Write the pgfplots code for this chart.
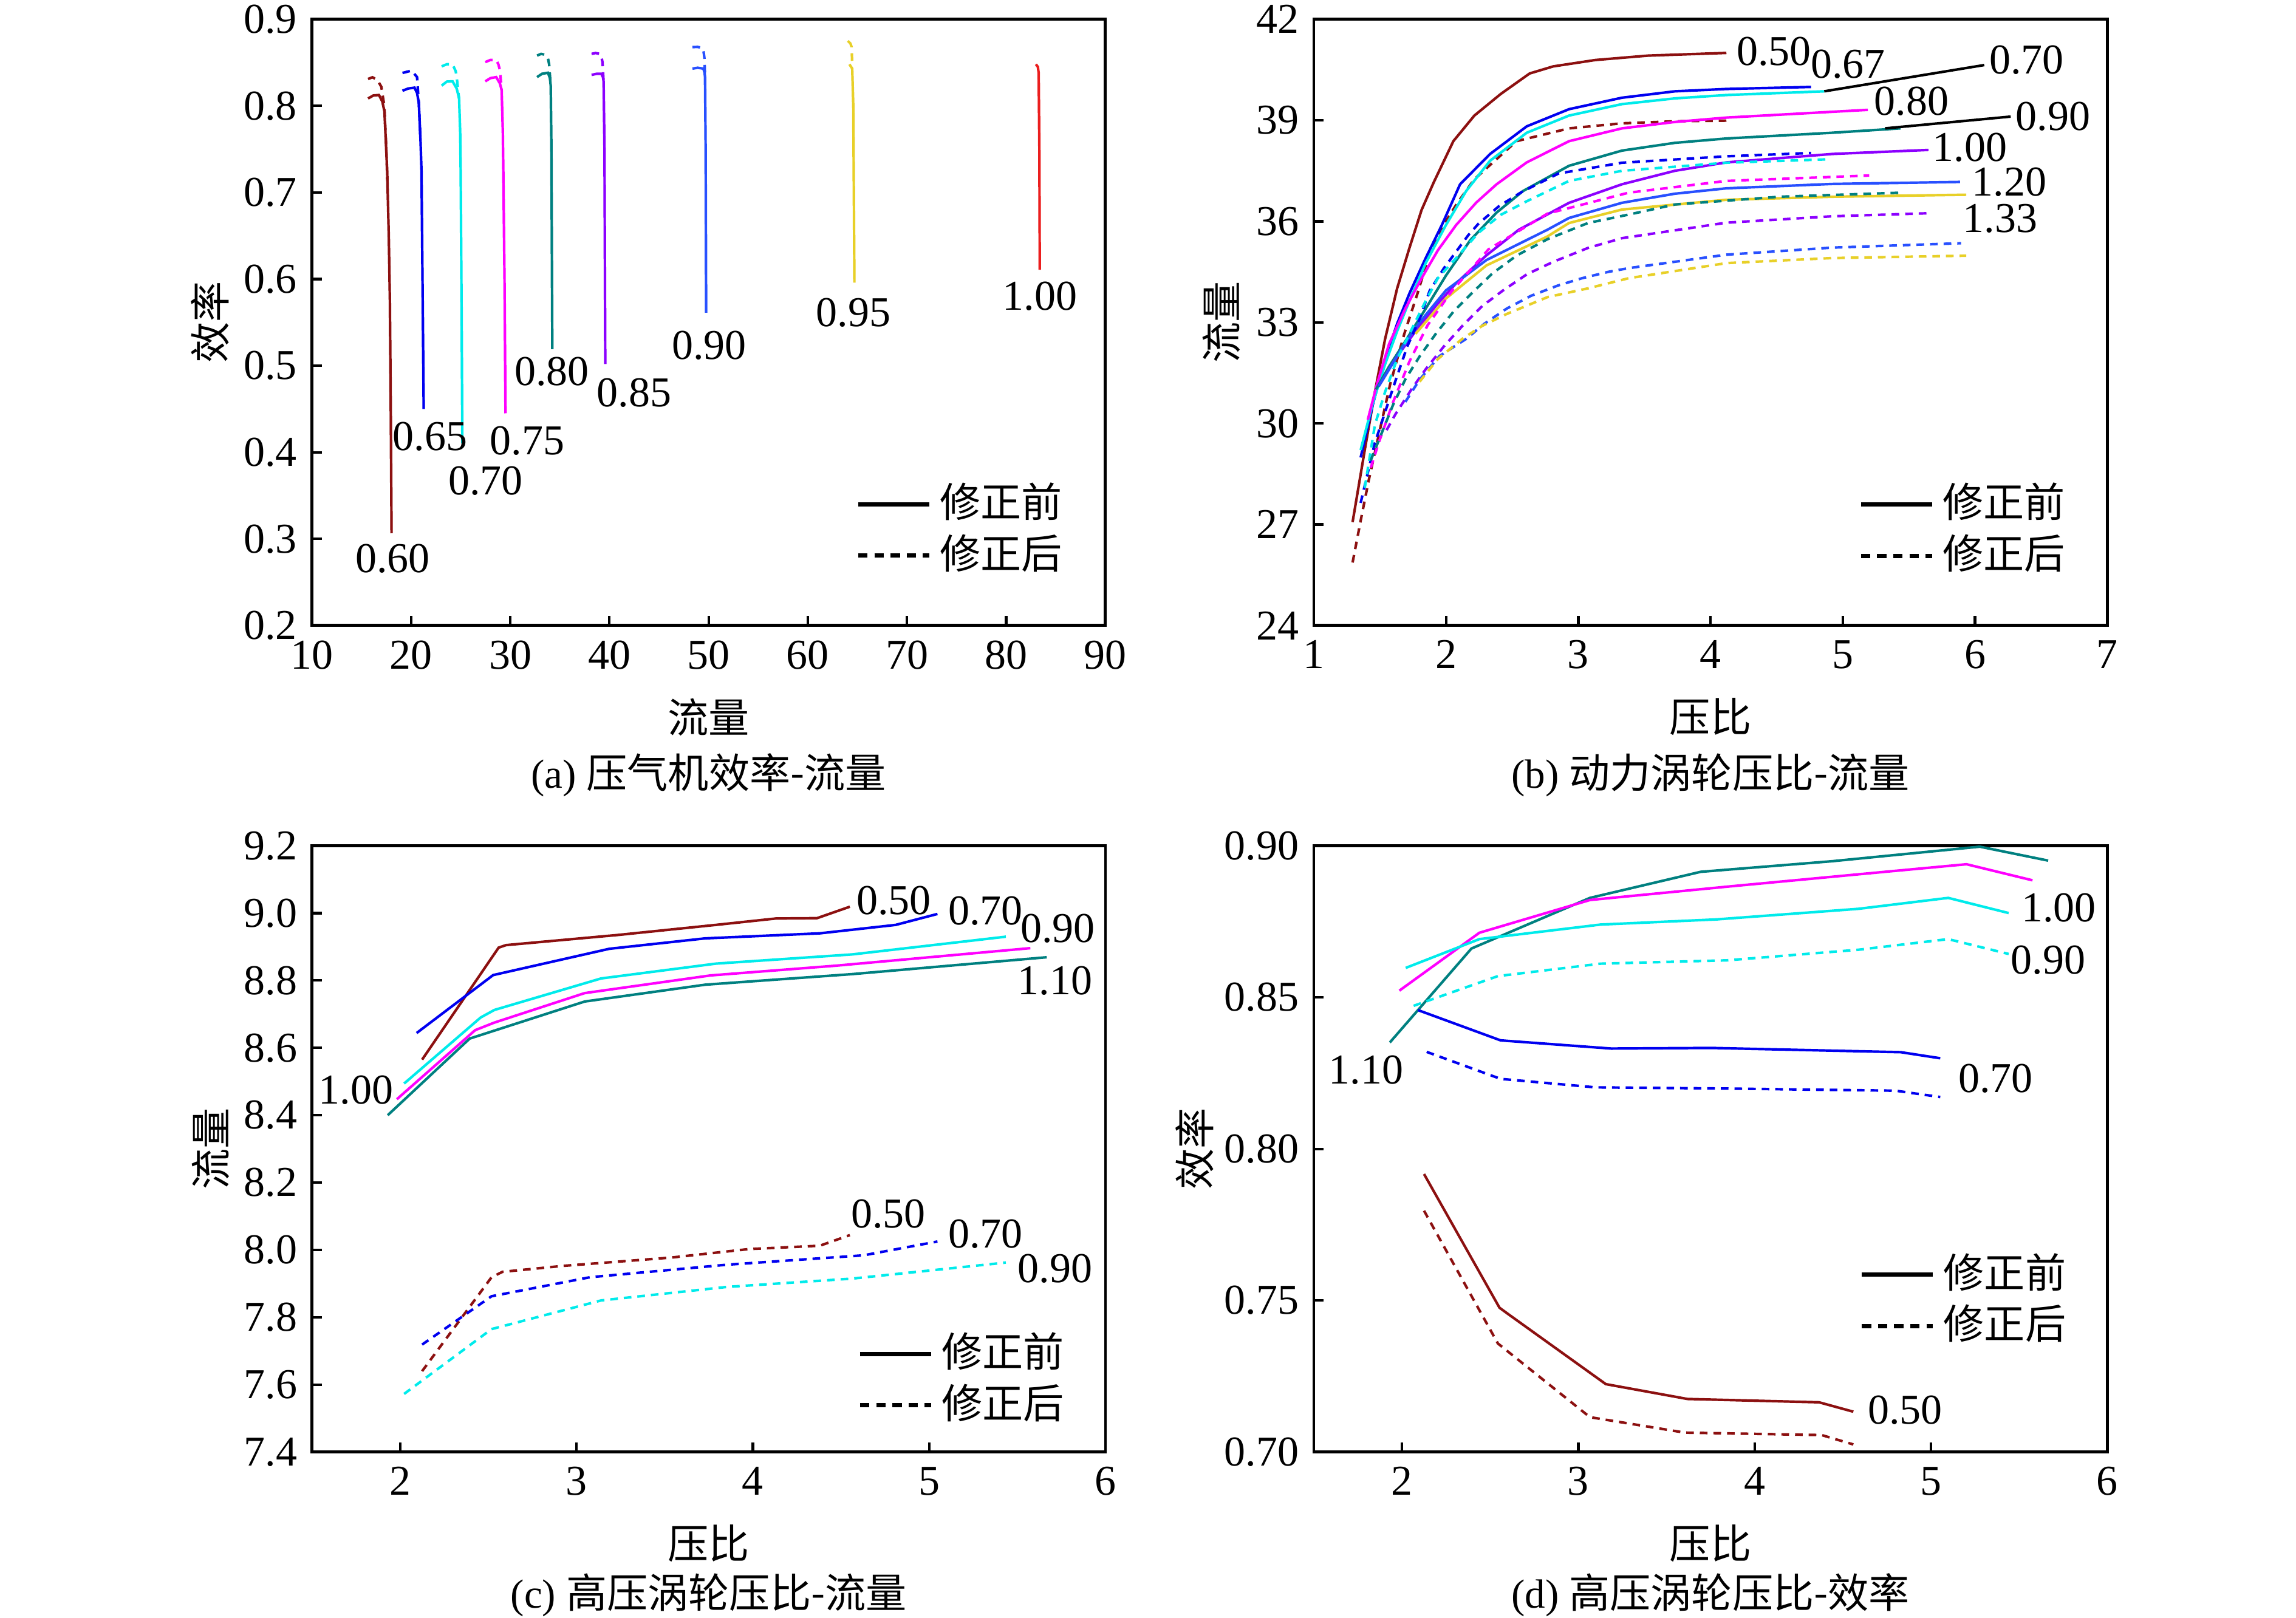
\documentclass[border=0pt]{standalone}
\usepackage{fontspec}
\setmainfont{Liberation Serif}
\newfontfamily\cjk{Noto Sans CJK SC}
\usepackage{pgfplots}
\pgfplotsset{compat=1.18}
\definecolor{cDR}{RGB}{140,16,16}
\definecolor{cB}{RGB}{0,0,240}
\definecolor{cC}{RGB}{0,235,235}
\definecolor{cM}{RGB}{255,0,255}
\definecolor{cT}{RGB}{0,128,128}
\definecolor{cV}{RGB}{140,0,255}
\definecolor{cRB}{RGB}{40,80,255}
\definecolor{cY}{RGB}{232,208,40}
\definecolor{cR}{RGB}{235,30,30}
\newcommand{\fs}{\fontsize{10}{12}\selectfont}
\newcommand{\cfs}{\fontsize{9.6}{11}\selectfont}
\tikzset{lab/.style={font=\fs}}
\pgfplotsset{
  myax/.style={scale only axis, width=186.6pt, height=142.6pt,
    tick align=inside, tick pos=left, major tick length=2.3pt,
    axis line style={line width=0.7pt}, every tick/.style={black,line width=0.6pt},
    tick label style={font=\fs}, /pgf/number format/assume math mode=true,
    xlabel style={at={(axis description cs:0.5,-0.1508)}, anchor=center, font=\cjk\cfs},
    legend image code/.code={\draw[##1] (0pt,0pt) -- (16.7pt,0pt);},
    legend cell align=left,
    legend style={draw=none, fill=none, anchor=west, inner sep=0pt, outer sep=0pt,
      row sep=0pt, column sep=1.5pt, font=\cjk\cfs,
      nodes={inner sep=0.5pt, text height=8.6pt, text depth=2.5pt}},
  },
  sl/.style={line width=0.6pt, forget plot},
  dl/.style={line width=0.6pt, dash pattern=on 1.8pt off 1.4pt, forget plot},
}
\newcommand{\mylegend}{%
  \addlegendimage{black, line width=1pt}\addlegendentry{修正前}
  \addlegendimage{black, line width=1pt, dash pattern=on 2.2pt off 1.6pt}\addlegendentry{修正后}}
\begin{document}
\begin{tikzpicture}
\path[use as bounding box] (0,0) rectangle (540pt,380.43pt);
% ---------------- (a)
\begin{axis}[myax, name=a, at={(73.36pt,375.9pt)}, anchor=north west,
  xmin=10, xmax=90, ymin=0.2, ymax=0.9,
  xtick={10,20,...,90}, ytick={0.2,0.3,0.4,0.5,0.6,0.7,0.8,0.9},
  yticklabel style={/pgf/number format/.cd, fixed, fixed zerofill, precision=1},
  xlabel={流量}, ylabel={效率},
  ylabel style={at={(axis description cs:-0.128,0.5)}, anchor=center, font=\cjk\cfs},
  legend style={at={(0.686,0.1575)}}]
\mylegend
\addplot[sl,cDR] coordinates {(15.66,0.8085) (16.2,0.812) (16.76,0.8125) (17.1,0.805) (17.31,0.7937) (17.45,0.76) (17.59,0.7244) (17.75,0.65) (17.86,0.576) (17.95,0.45) (18.03,0.3065)};
\addplot[dl,cDR] coordinates {(15.66,0.831) (16.1,0.833) (16.6,0.83) (17.0,0.822) (17.3,0.80) (17.5,0.75) (17.6,0.715)};
\addplot[sl,cB] coordinates {(19.13,0.8174) (19.7,0.82) (20.34,0.821) (20.6,0.815) (20.78,0.8036) (20.95,0.76) (21.05,0.7244) (21.15,0.6) (21.27,0.45)};
\addplot[dl,cB] coordinates {(19.13,0.838) (20.06,0.8407) (20.6,0.8332) (20.78,0.8036) (20.95,0.76)};
\addplot[sl,cC] coordinates {(23.08,0.8233) (23.6,0.828) (24.18,0.8283) (24.6,0.82) (24.84,0.8085) (24.95,0.77) (25.0,0.7244) (25.1,0.55) (25.17,0.4104)};
\addplot[dl,cC] coordinates {(23.08,0.8456) (23.6,0.848) (24.18,0.848) (24.5,0.84) (24.62,0.8308) (24.84,0.8085)};
\addplot[sl,cM] coordinates {(27.48,0.8283) (28.0,0.832) (28.58,0.8332) (28.95,0.826) (29.13,0.8184) (29.25,0.77) (29.3,0.7244) (29.42,0.6) (29.52,0.445)};
\addplot[dl,cM] coordinates {(27.48,0.8505) (28.0,0.853) (28.58,0.853) (28.8,0.848) (28.97,0.8407) (29.13,0.818)};
\addplot[sl,cT] coordinates {(32.7,0.8332) (33.2,0.837) (33.8,0.8382) (34.0,0.832) (34.08,0.8233) (34.15,0.75) (34.24,0.519)};
\addplot[dl,cT] coordinates {(32.7,0.858) (33.1,0.86) (33.53,0.859) (33.8,0.855) (33.92,0.848) (34.08,0.823)};
\addplot[sl,cV] coordinates {(38.2,0.8357) (38.7,0.837) (39.19,0.837) (39.35,0.833) (39.41,0.8283) (39.5,0.75) (39.58,0.5019)};
\addplot[dl,cV] coordinates {(38.2,0.860) (38.6,0.861) (39.03,0.860) (39.2,0.856) (39.3,0.8505) (39.41,0.828)};
\addplot[sl,cRB] coordinates {(48.37,0.843) (48.9,0.844) (49.47,0.843) (49.6,0.838) (49.64,0.833) (49.7,0.75) (49.75,0.5612)};
\addplot[dl,cRB] coordinates {(48.37,0.8679) (48.9,0.868) (49.36,0.867) (49.5,0.862) (49.58,0.855) (49.64,0.833)};
\addplot[sl,cY] coordinates {(64.2,0.848) (64.48,0.843) (64.59,0.7986) (64.7,0.5959)};
\addplot[dl,cY] coordinates {(64.04,0.875) (64.3,0.872) (64.42,0.868) (64.48,0.848)};
\addplot[sl,cR] coordinates {(83.0,0.848) (83.2,0.845) (83.28,0.838) (83.35,0.75) (83.39,0.6107)};
\node[lab] at (axis cs:18.15,0.277) {0.60};
\node[lab] at (axis cs:21.9,0.418) {0.65};
\node[lab] at (axis cs:27.5,0.367) {0.70};
\node[lab] at (axis cs:31.7,0.413) {0.75};
\node[lab] at (axis cs:34.2,0.493) {0.80};
\node[lab] at (axis cs:42.5,0.469) {0.85};
\node[lab] at (axis cs:50.06,0.5235) {0.90};
\node[lab] at (axis cs:64.6,0.561) {0.95};
\node[lab] at (axis cs:83.4,0.580) {1.00};
\end{axis}
\node[font=\cfs] at ([yshift=-35.2pt]a.south) {(a) {\cjk 压气机效率-流量}};
% ---------------- (b)
\begin{axis}[myax, name=b, at={(309pt,375.9pt)}, anchor=north west,
  xmin=1, xmax=7, ymin=24, ymax=42,
  xtick={1,2,...,7}, ytick={24,27,...,42},
  xlabel={压比}, ylabel={流量},
  ylabel style={at={(axis description cs:-0.1163,0.5)}, anchor=center, font=\cjk\cfs},
  legend style={at={(0.687,0.1575)}}]
\mylegend
\addplot[sl,cDR] coordinates {(1.293,27.07) (1.385,29.21) (1.462,30.94) (1.539,32.51) (1.63,34.01) (1.723,35.21) (1.815,36.34) (1.907,37.16) (2.055,38.38) (2.214,39.14) (2.413,39.78) (2.632,40.39) (2.81,40.6) (3.13,40.79) (3.527,40.92) (4.12,41.0)};
\addplot[dl,cDR] coordinates {(1.293,25.87) (1.354,27.11) (1.415,28.31) (1.508,29.96) (1.577,31.16) (1.684,32.66) (1.784,33.86) (1.876,35.06) (1.968,35.81) (2.083,36.53) (2.214,37.25) (2.532,38.38) (2.93,38.76) (3.33,38.91) (3.73,38.97) (4.12,38.99)};
\addplot[sl,cB] coordinates {(1.354,28.99) (1.446,30.56) (1.539,31.91) (1.63,32.96) (1.723,33.86) (1.846,34.91) (1.968,35.89) (2.106,37.1) (2.333,38.0) (2.61,38.82) (2.93,39.33) (3.33,39.67) (3.73,39.86) (4.12,39.93) (4.76,39.99)};
\addplot[sl,cC] coordinates {(1.354,29.21) (1.446,30.6) (1.539,31.76) (1.63,32.74) (1.723,33.64) (1.846,34.76) (1.999,35.89) (2.152,36.9) (2.333,37.8) (2.61,38.63) (2.93,39.14) (3.33,39.48) (3.73,39.65) (4.12,39.75) (4.86,39.86)};
\addplot[sl,cM] coordinates {(1.408,30.11) (1.477,31.16) (1.569,32.36) (1.692,33.41) (1.815,34.31) (1.938,35.14) (2.076,35.89) (2.229,36.56) (2.382,37.1) (2.61,37.75) (2.93,38.38) (3.33,38.76) (3.73,38.95) (4.12,39.08) (5.19,39.31)};
\addplot[sl,cT] coordinates {(1.47,31.01) (1.569,31.69) (1.692,32.44) (1.846,33.41) (1.999,34.39) (2.183,35.44) (2.382,36.26) (2.582,36.9) (2.93,37.65) (3.33,38.1) (3.73,38.33) (4.12,38.46) (4.92,38.63) (5.437,38.76)};
\addplot[sl,cV] coordinates {(1.49,31.1) (1.615,31.91) (1.769,32.74) (1.922,33.49) (2.076,34.16) (2.305,34.99) (2.55,35.75) (2.93,36.55) (3.33,37.1) (3.73,37.5) (4.12,37.75) (4.92,38.0) (5.648,38.12)};
\addplot[sl,cRB] coordinates {(1.49,31.1) (1.6,31.8) (1.692,32.4) (1.8,33.0) (1.999,33.95) (2.305,34.85) (2.766,35.75) (2.93,36.1) (3.33,36.55) (3.73,36.82) (4.12,36.98) (4.92,37.11) (5.887,37.17)};
\addplot[sl,cY] coordinates {(1.769,32.66) (1.999,33.71) (2.305,34.69) (2.766,35.55) (2.93,35.95) (3.33,36.35) (4.12,36.64) (4.92,36.73) (5.934,36.79)};
\addplot[dl,cB] coordinates {(1.354,27.64) (1.46,29.4) (1.615,31.24) (1.707,32.29) (1.8,33.11) (1.876,33.94) (1.984,34.61) (2.168,35.59) (2.245,35.93) (2.4,36.45) (2.567,36.86) (2.85,37.42) (3.33,37.74) (4.12,37.93) (4.76,38.03)};
\addplot[dl,cC] coordinates {(1.385,28.09) (1.462,29.96) (1.539,30.94) (1.63,31.91) (1.723,32.66) (1.846,33.64) (1.937,34.31) (2.076,34.91) (2.245,35.66) (2.412,36.19) (2.612,36.6) (2.93,37.2) (3.33,37.5) (4.12,37.74) (4.88,37.84)};
\addplot[dl,cM] coordinates {(1.431,28.69) (1.492,29.44) (1.6,30.64) (1.723,31.84) (1.861,32.92) (2.045,33.94) (2.321,35.17) (2.767,36.23) (3.38,36.85) (4.12,37.2) (5.2,37.36)};
\addplot[dl,cT] coordinates {(1.43,28.9) (1.523,29.81) (1.6,30.56) (1.692,31.31) (1.8,31.99) (1.922,32.66) (2.06,33.34) (2.214,33.94) (2.352,34.46) (2.536,34.99) (2.767,35.47) (3.073,35.95) (3.38,36.2) (3.73,36.5) (4.52,36.73) (5.437,36.85)};
\addplot[dl,cV] coordinates {(1.55,29.8) (1.615,30.26) (1.738,31.01) (1.846,31.61) (1.984,32.29) (2.122,32.89) (2.275,33.49) (2.428,33.94) (2.612,34.43) (2.812,34.8) (3.073,35.21) (3.33,35.5) (4.12,35.96) (4.92,36.15) (5.648,36.24)};
\addplot[dl,cRB] coordinates {(1.692,30.64) (1.8,31.3) (1.95,32.0) (2.152,32.51) (2.29,32.96) (2.459,33.41) (2.643,33.79) (2.843,34.09) (3.027,34.31) (3.227,34.5) (3.38,34.61) (4.12,35.01) (4.92,35.22) (5.895,35.35)};
\addplot[dl,cY] coordinates {(1.8,31.24) (1.937,31.91) (2.03,32.21) (2.122,32.51) (2.275,32.9) (2.459,33.25) (2.767,33.75) (3.073,34.01) (3.38,34.31) (4.12,34.76) (4.92,34.91) (5.934,34.98)};
\addplot[sl,black] coordinates {(4.86,39.86) (6.07,40.64)};
\addplot[sl,black] coordinates {(5.32,38.76) (6.27,39.11)};
\node[lab] at (axis cs:4.48,41.05) {0.50};
\node[lab] at (axis cs:5.04,40.67) {0.67};
\node[lab] at (axis cs:6.39,40.79) {0.70};
\node[lab] at (axis cs:5.52,39.56) {0.80};
\node[lab] at (axis cs:6.59,39.11) {0.90};
\node[lab] at (axis cs:5.96,38.19) {1.00};
\node[lab] at (axis cs:6.26,37.17) {1.20};
\node[lab] at (axis cs:6.19,36.09) {1.33};
\end{axis}
\node[font=\cfs] at ([yshift=-35.2pt]b.south) {(b) {\cjk 动力涡轮压比-流量}};
% ---------------- (c)
\begin{axis}[myax, name=c, at={(73.4pt,181.5pt)}, anchor=north west,
  xmin=1.5, xmax=6, ymin=7.4, ymax=9.2,
  xtick={2,3,4,5,6}, ytick={7.4,7.6,7.8,8.0,8.2,8.4,8.6,8.8,9.0,9.2},
  yticklabel style={/pgf/number format/.cd, fixed, fixed zerofill, precision=1},
  xlabel={压比}, ylabel={流量},
  ylabel style={at={(axis description cs:-0.128,0.5)}, anchor=center, font=\cjk\cfs},
  legend style={at={(0.688,0.1195)}}]
\mylegend
\addplot[sl,cDR] coordinates {(2.124,8.565) (2.558,8.8975) (2.6,8.905) (3.232,8.935) (3.79,8.965) (4.13,8.984) (4.364,8.985) (4.55,9.019)};
\addplot[sl,cB] coordinates {(2.093,8.644) (2.527,8.816) (3.185,8.894) (3.73,8.925) (4.38,8.94) (4.81,8.965) (5.047,8.9975)};
\addplot[sl,cC] coordinates {(2.022,8.494) (2.456,8.69) (2.534,8.7125) (3.139,8.806) (3.79,8.85) (4.566,8.8775) (5.435,8.93)};
\addplot[sl,cM] coordinates {(1.981,8.4475) (2.425,8.6525) (2.534,8.675) (3.046,8.7625) (3.76,8.815) (4.473,8.844) (5.574,8.896)};
\addplot[sl,cT] coordinates {(1.929,8.40) (2.394,8.6275) (3.046,8.7375) (3.73,8.7875) (4.566,8.819) (5.667,8.869)};
\addplot[dl,cDR] coordinates {(2.124,7.64) (2.518,7.919) (2.58,7.935) (2.92,7.9525) (3.54,7.9775) (3.976,8.0025) (4.38,8.0125) (4.55,8.044)};
\addplot[dl,cB] coordinates {(2.124,7.719) (2.518,7.8625) (3.077,7.919) (3.85,7.956) (4.628,7.984) (5.047,8.025)};
\addplot[dl,cC] coordinates {(2.022,7.5725) (2.518,7.765) (3.139,7.85) (3.85,7.89) (4.566,7.915) (5.435,7.9625)};
\node[lab] at (axis cs:4.80,9.0375) {0.50};
\node[lab] at (axis cs:5.32,9.006) {0.70};
\node[lab] at (axis cs:5.73,8.954) {0.90};
\node[lab] at (axis cs:5.714,8.80) {1.10};
\node[lab] at (axis cs:1.749,8.475) {1.00};
\node[lab] at (axis cs:4.768,8.106) {0.50};
\node[lab] at (axis cs:5.32,8.0475) {0.70};
\node[lab] at (axis cs:5.714,7.944) {0.90};
\end{axis}
\node[font=\cfs] at ([yshift=-33.6pt]c.south) {(c) {\cjk 高压涡轮压比-流量}};
% ---------------- (d)
\begin{axis}[myax, name=dd, at={(309pt,181.5pt)}, anchor=north west,
  xmin=1.5, xmax=6, ymin=0.7, ymax=0.9,
  xtick={2,3,4,5,6}, ytick={0.70,0.75,0.80,0.85,0.90},
  yticklabel style={/pgf/number format/.cd, fixed, fixed zerofill, precision=2},
  xlabel={压比}, ylabel={效率},
  ylabel style={at={(axis description cs:-0.150,0.5)}, anchor=center, font=\cjk\cfs},
  legend style={at={(0.688,0.250)}}]
\mylegend
\addplot[sl,cT] coordinates {(1.931,0.8351) (2.394,0.8661) (3.066,0.8828) (3.694,0.8914) (4.44,0.8949) (5.277,0.8997) (5.665,0.8951)};
\addplot[sl,cM] coordinates {(1.985,0.8522) (2.439,0.8713) (3.066,0.8821) (3.843,0.8865) (4.739,0.8914) (5.202,0.8939) (5.576,0.8886)};
\addplot[sl,cC] coordinates {(2.021,0.8597) (2.439,0.8692) (3.126,0.874) (3.783,0.8757) (4.59,0.8792) (5.098,0.8828) (5.441,0.8778)};
\addplot[sl,cB] coordinates {(2.09,0.8458) (2.559,0.8358) (3.186,0.8331) (3.754,0.8333) (4.829,0.8319) (5.053,0.8299)};
\addplot[sl,cDR] coordinates {(2.125,0.7917) (2.553,0.7476) (2.6,0.7456) (3.156,0.7224) (3.619,0.7175) (4.366,0.7164) (4.56,0.7133)};
\addplot[dl,cC] coordinates {(2.066,0.8472) (2.544,0.857) (3.126,0.8611) (3.843,0.8622) (4.59,0.8657) (5.098,0.8692) (5.441,0.8643)};
\addplot[dl,cB] coordinates {(2.14,0.832) (2.559,0.8231) (3.096,0.8203) (3.843,0.8199) (4.80,0.8192) (5.053,0.8171)};
\addplot[dl,cDR] coordinates {(2.125,0.7796) (2.544,0.7358) (3.066,0.7115) (3.604,0.7064) (4.38,0.7056) (4.56,0.7025)};
\node[lab] at (axis cs:5.725,0.8796) {1.00};
\node[lab] at (axis cs:5.665,0.8622) {0.90};
\node[lab] at (axis cs:5.367,0.8233) {0.70};
\node[lab] at (axis cs:1.797,0.8261) {1.10};
\node[lab] at (axis cs:4.853,0.7139) {0.50};
\end{axis}
\node[font=\cfs] at ([yshift=-33.6pt]dd.south) {(d) {\cjk 高压涡轮压比-效率}};
\end{tikzpicture}
\end{document}
